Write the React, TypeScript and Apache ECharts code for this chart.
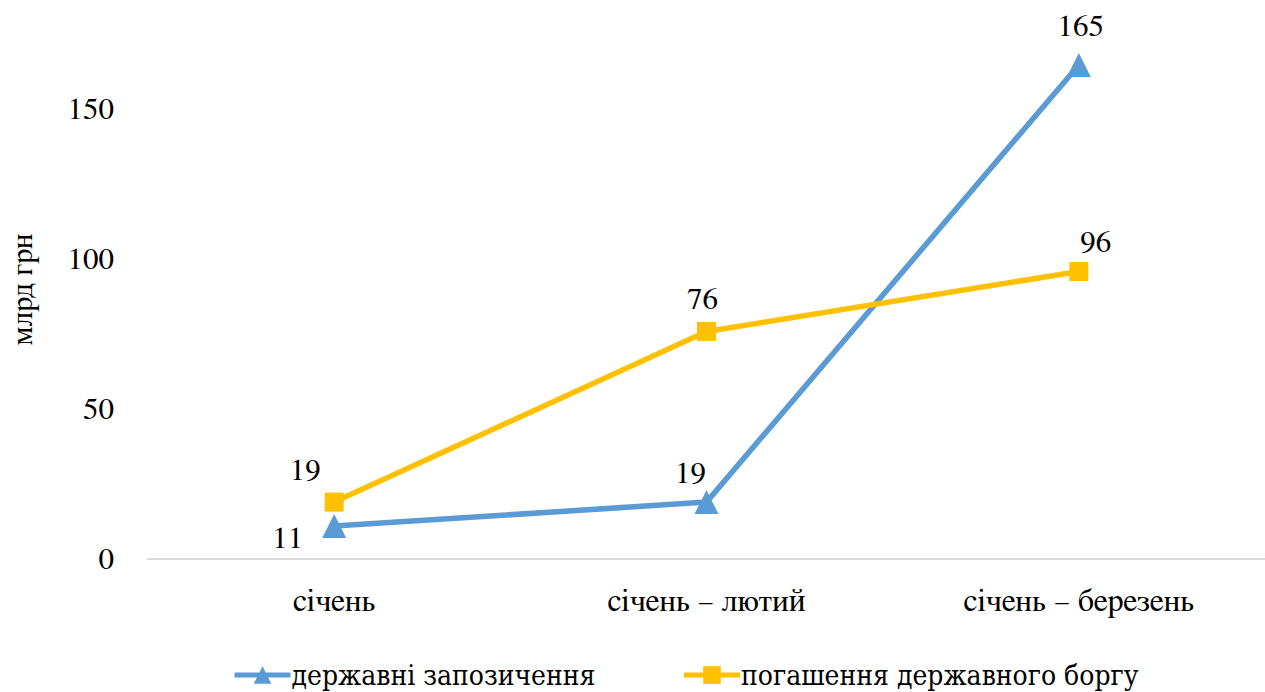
import React, { useEffect, useRef } from "react";
import * as echarts from "echarts";

const categories = ["січень", "січень – лютий", "січень – березень"];
const borrowing = [11, 19, 165];
const repayment = [19, 76, 96];
const seriesNames = ["державні запозичення", "погашення державного боргу"];
const axisName = "млрд грн";

export default function App() {
  const ref = useRef<HTMLDivElement>(null);
  useEffect(() => {
    document.body.style.margin = "0";
    const chart = echarts.init(ref.current!, null, { renderer: "svg" });
    const lbl = { color: "#000", fontFamily: "FreeSerif", fontSize: 31 };
    chart.setOption({
      animation: false,
      grid: { left: 145, right: 0, top: 20, bottom: 133 },
      legend: {
        left: 227,
        top: 656,
        itemWidth: 56,
        itemHeight: 22,
        itemGap: 86,
        lineStyle: { width: 5 },
        textStyle: { color: "#000", fontFamily: "DejaVu Serif Condensed", fontSize: 28, padding: [0, 0, 0, -4] },
        data: seriesNames,
      },
      xAxis: {
        type: "category",
        data: categories,
        boundaryGap: true,
        axisLine: { lineStyle: { color: "#d9d9d9", width: 2 } },
        axisTick: { show: false },
        axisLabel: { ...lbl, fontSize: 32, margin: 26 },
      },
      yAxis: {
        type: "value",
        min: 0,
        max: 180,
        interval: 50,
        name: axisName,
        nameLocation: "middle",
        nameGap: 110,
        nameTextStyle: { ...lbl, fontSize: 30 },
        axisLine: { show: false },
        axisTick: { show: false },
        splitLine: { show: false },
        axisLabel: { ...lbl, margin: 34, showMaxLabel: false },
      },
      series: [
        {
          name: seriesNames[0],
          type: "line",
          data: borrowing.map((v, i) => ({
            value: v,
            label: {
              position: i === 0 ? "left" : "top",
              offset: i === 0 ? [-14, 12] : i === 1 ? [-16, 4] : [2, -6],
            },
          })),
          symbol: "triangle",
          symbolSize: 24,
          lineStyle: { width: 5.5, color: "#5B9BD5" },
          itemStyle: { color: "#5B9BD5" },
          label: { show: true, ...lbl },
          z: 2,
        },
        {
          name: seriesNames[1],
          type: "line",
          data: repayment.map((v, i) => ({
            value: v,
            label: {
              position: "top",
              offset: i === 0 ? [-29, -2] : i === 1 ? [-4, -2] : [17, 1],
            },
          })),
          symbol: "rect",
          symbolSize: 19,
          lineStyle: { width: 5.5, color: "#FFC000" },
          itemStyle: { color: "#FFC000" },
          label: { show: true, ...lbl },
          z: 3,
        },
      ],
    });
    return () => chart.dispose();
  }, []);
  return <div ref={ref} style={{ width: 1265, height: 692 }} />;
}
